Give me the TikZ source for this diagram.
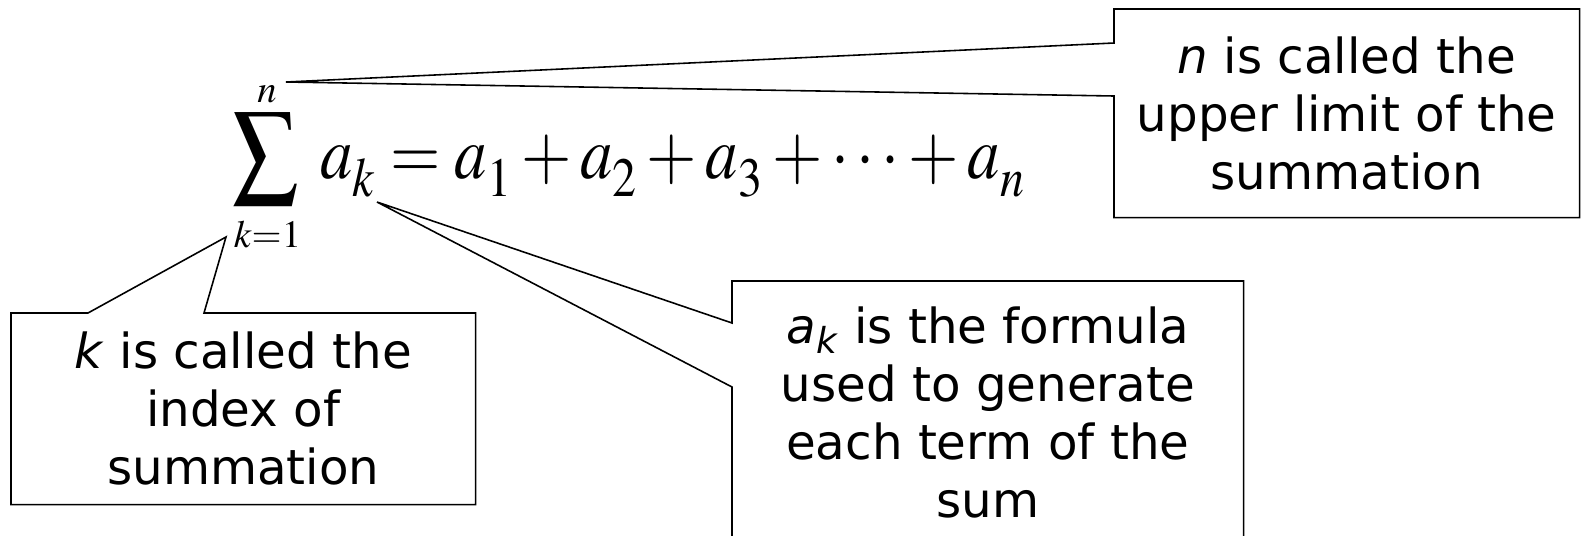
\documentclass[tikz,border=0pt]{standalone}
\usepackage{mathptmx}
\usepackage[no-math]{fontspec}
\usepackage{graphicx}
\setmainfont{DejaVu Sans}
\usetikzlibrary{positioning, calc}

% subscript set a little lower than usual
\newcommand{\lowsub}[1]{\raisebox{-3.5pt}{$\scriptstyle #1$}}

\begin{document}
\begin{tikzpicture}[
  x=0.02cm, y=-0.02cm,
  align=center,
  font=\fontsize{27.5}{33}\selectfont,
  % limits of the sum
  limit/.style={inner sep=0pt, anchor=base, font=\fontsize{22}{24}\selectfont},
  % callout boxes
  callout/.style={rectangle, inner sep=0pt},
  outline/.style={draw, line width=0.9pt, line join=miter}
]
  \path[use as bounding box, clip] (0,0) rectangle (1583,535);

  % ==========================================
  % FORMULA
  % ==========================================
  \node[inner sep=0pt, anchor=base west, font=\fontsize{38}{40}\selectfont] (formula) at (232,178)
    {\scalebox{0.97}[1.12]{$\displaystyle\sum\mkern4mu a_{\lowsub{k}} = a_{\lowsub{1}} + a_{\lowsub{2}}
      + a_{\lowsub{3}} + \cdots + a_{\lowsub{n}}$}};
  \node[limit] (upper_lim) at (267,102) {$n$};
  \node[limit] (lower_lim) at (267.5,247) {$k{=}1$};

  \coordinate (tip_n) at (286,82);
  \coordinate (tip_k) at (226,237);
  \coordinate (tip_a) at (377,202);

  % ==========================================
  % CALLOUTS
  % ==========================================
  \node[callout, minimum width=9.3cm, minimum height=4.16cm, anchor=north west] (upper) at (1114,9) {
    \textit{n} is called the\\
    upper limit of the\\
    summation
  };
  \draw[outline] ($(upper.north west)+(0,34)$) -- (tip_n) -- ($(upper.north west)+(0,87)$)
    -- (upper.south west) -- (upper.south east) -- (upper.north east) -- (upper.north west) -- cycle;

  \node[callout, minimum width=9.28cm, minimum height=3.82cm, anchor=north west] (index) at (11,313) {
    \textit{k} is called the\\
    index of\\
    summation
  };
  \draw[outline] ($(index.north west)+(77,0)$) -- (tip_k) -- ($(index.north west)+(193,0)$)
    -- (index.north east) -- (index.south east) -- (index.south west) -- (index.north west) -- cycle;

  \node[callout, minimum width=10.22cm, minimum height=5.24cm, anchor=north west] (term) at (732,281) {
    \textit{a}\textsubscript{\textit{k}} is the formula\\
    used to generate\\
    each term of the\\
    sum
  };
  \draw[outline] ($(term.north west)+(0,42)$) -- (tip_a) -- ($(term.north west)+(0,106)$)
    -- (term.south west) -- (term.south east) -- (term.north east) -- (term.north west) -- cycle;

\end{tikzpicture}
\end{document}
